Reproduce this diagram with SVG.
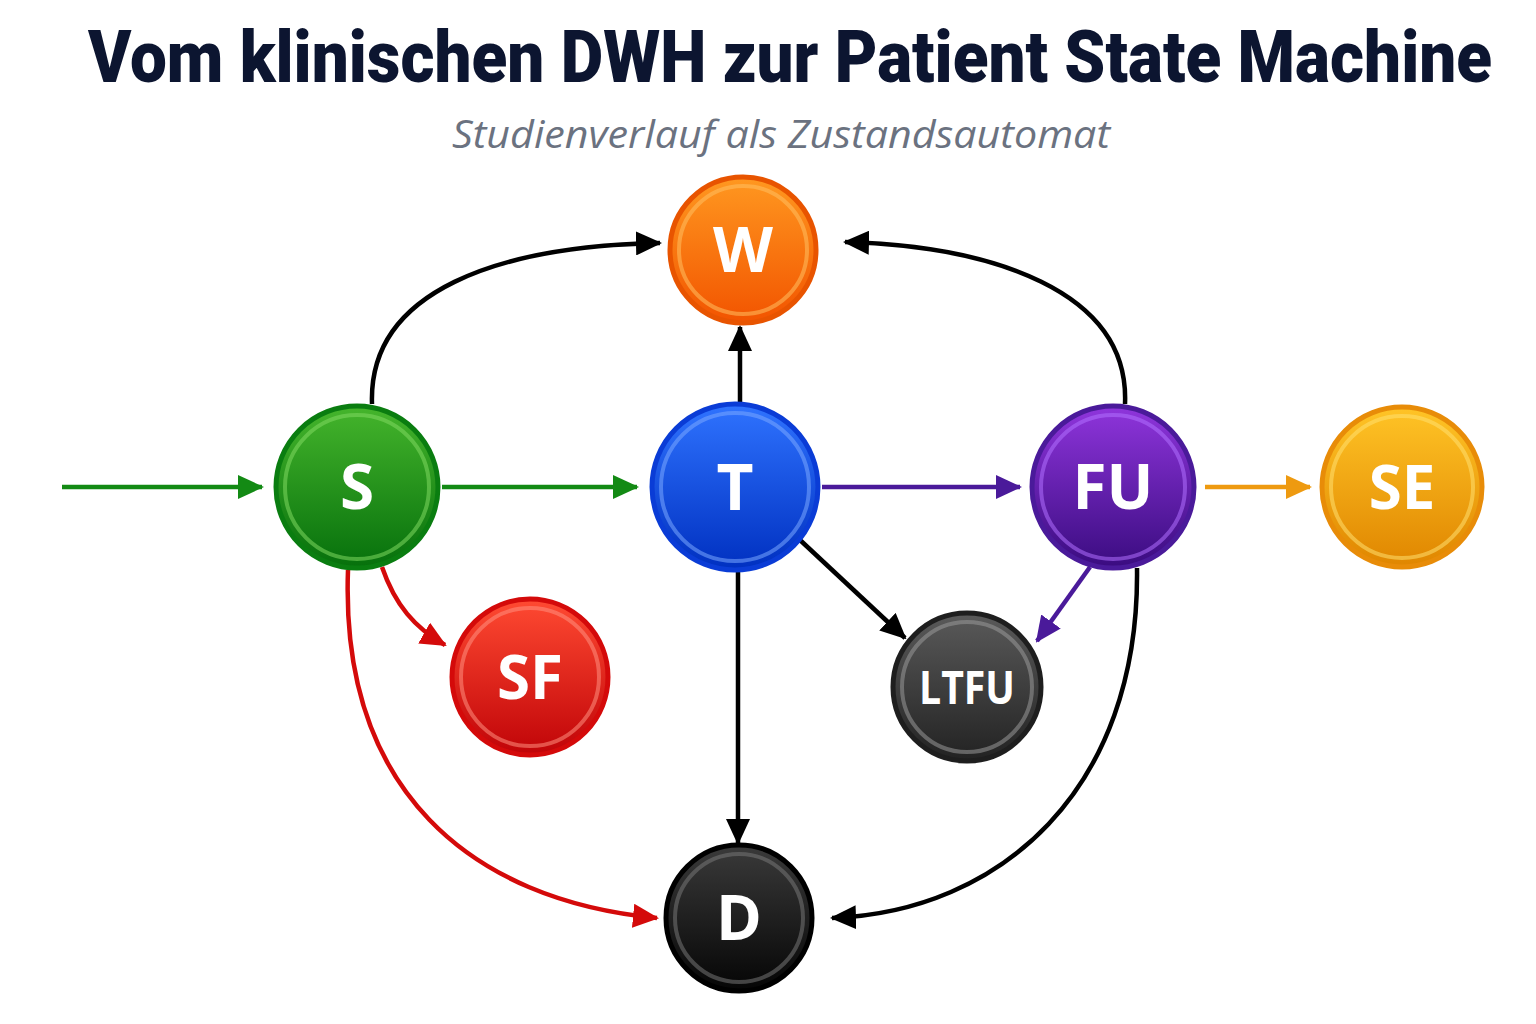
<svg xmlns="http://www.w3.org/2000/svg" width="1536" height="1024" viewBox="0 0 1536 1024">
<style>
.title{font-family:Roboto,"Liberation Sans",sans-serif;font-weight:900;font-size:72px;fill:#0c1530}
.sub{font-family:"Open Sans","Liberation Sans",sans-serif;font-style:italic;font-size:38px;fill:#6b7280}
.lbl{font-family:"Open Sans","Liberation Sans",sans-serif;font-weight:bold;fill:#fff;text-anchor:middle}
.e{fill:none;stroke-width:4.5}
.ring{fill:none;stroke-width:4;opacity:.55}
</style>
<defs>
<marker id="aG" markerUnits="userSpaceOnUse" markerWidth="26" markerHeight="24" refX="24" refY="12" orient="auto"><path d="M0,0 L26,12 L0,24 Z" fill="#138a14"/></marker>
<marker id="aK" markerUnits="userSpaceOnUse" markerWidth="26" markerHeight="24" refX="24" refY="12" orient="auto"><path d="M0,0 L26,12 L0,24 Z" fill="#000"/></marker>
<marker id="aP" markerUnits="userSpaceOnUse" markerWidth="26" markerHeight="24" refX="24" refY="12" orient="auto"><path d="M0,0 L26,12 L0,24 Z" fill="#4a1a9a"/></marker>
<marker id="aO" markerUnits="userSpaceOnUse" markerWidth="26" markerHeight="24" refX="24" refY="12" orient="auto"><path d="M0,0 L26,12 L0,24 Z" fill="#ee9a10"/></marker>
<marker id="aR" markerUnits="userSpaceOnUse" markerWidth="26" markerHeight="24" refX="24" refY="12" orient="auto"><path d="M0,0 L26,12 L0,24 Z" fill="#d40a0a"/></marker>
<linearGradient id="gS" x1="0" y1="0" x2="0" y2="1"><stop offset="0" stop-color="#45b52c"/><stop offset="1" stop-color="#06700c"/></linearGradient>
<linearGradient id="gW" x1="0" y1="0" x2="0" y2="1"><stop offset="0" stop-color="#ff9820"/><stop offset="1" stop-color="#f25400"/></linearGradient>
<linearGradient id="gT" x1="0" y1="0" x2="0" y2="1"><stop offset="0" stop-color="#2f73ff"/><stop offset="1" stop-color="#0030c0"/></linearGradient>
<linearGradient id="gFU" x1="0" y1="0" x2="0" y2="1"><stop offset="0" stop-color="#8f35dc"/><stop offset="1" stop-color="#3a0c80"/></linearGradient>
<linearGradient id="gSE" x1="0" y1="0" x2="0" y2="1"><stop offset="0" stop-color="#ffc426"/><stop offset="1" stop-color="#e08600"/></linearGradient>
<linearGradient id="gSF" x1="0" y1="0" x2="0" y2="1"><stop offset="0" stop-color="#ff4a32"/><stop offset="1" stop-color="#c00408"/></linearGradient>
<linearGradient id="gL" x1="0" y1="0" x2="0" y2="1"><stop offset="0" stop-color="#5a5a5a"/><stop offset="1" stop-color="#222"/></linearGradient>
<linearGradient id="gD" x1="0" y1="0" x2="0" y2="1"><stop offset="0" stop-color="#3a3a3a"/><stop offset="1" stop-color="#050505"/></linearGradient>
</defs>
<rect width="1536" height="1024" fill="#fff"/>
<text class="title" x="88" y="82" textLength="1404" lengthAdjust="spacingAndGlyphs">Vom klinischen DWH zur Patient State Machine</text>
<text class="sub" x="781" y="148" text-anchor="middle" textLength="658" lengthAdjust="spacingAndGlyphs">Studienverlauf als Zustandsautomat</text>
<g id="connectors">
<path class="e" stroke="#138a14" d="M62,487 L262,487" marker-end="url(#aG)"/>
<path class="e" stroke="#138a14" d="M442,487 L637,487" marker-end="url(#aG)"/>
<path class="e" stroke="#4a1a9a" d="M822,487 L1020,487" marker-end="url(#aP)"/>
<path class="e" stroke="#ee9a10" d="M1205,487 L1310,487" marker-end="url(#aO)"/>
<path class="e" stroke="#000" d="M740,403 L740,327" marker-end="url(#aK)"/>
<path class="e" stroke="#000" d="M372,404 C368,290 500,246 660,243" marker-end="url(#aK)"/>
<path class="e" stroke="#000" d="M1125,404 C1130,290 990,246 845,242" marker-end="url(#aK)"/>
<path class="e" stroke="#d40a0a" d="M382,567 C395,605 415,628 445,645" marker-end="url(#aR)"/>
<path class="e" stroke="#d40a0a" d="M348,570 C340,790 470,900 657,918" marker-end="url(#aR)"/>
<path class="e" stroke="#000" d="M738,570 L738,843" marker-end="url(#aK)"/>
<path class="e" stroke="#000" d="M800,540 L905,638" marker-end="url(#aK)"/>
<path class="e" stroke="#4a1a9a" d="M1090,567 L1037,641" marker-end="url(#aP)"/>
<path class="e" stroke="#000" d="M1137,568 C1140,790 1000,912 832,918" marker-end="url(#aK)"/>
</g>
<g id="node-W">
<circle cx="743" cy="250" r="73" fill="url(#gW)" stroke="#e85400" stroke-width="5"/>
<circle class="ring" cx="743" cy="250" r="64" stroke="#ffc060"/>
<text class="lbl" x="743" y="272" font-size="62">W</text>
</g>
<g id="node-S">
<circle cx="357" cy="487" r="81" fill="url(#gS)" stroke="#0a7d10" stroke-width="5"/>
<circle class="ring" cx="357" cy="487" r="72" stroke="#7fd860"/>
<text class="lbl" x="357" y="509" font-size="62">S</text>
</g>
<g id="node-T">
<circle cx="735" cy="487" r="83" fill="url(#gT)" stroke="#0a3cd6" stroke-width="5"/>
<circle class="ring" cx="735" cy="487" r="74" stroke="#7aa8ff"/>
<text class="lbl" x="735" y="510" font-size="64">T</text>
</g>
<g id="node-FU">
<circle cx="1113" cy="487" r="81" fill="url(#gFU)" stroke="#4a1a9a" stroke-width="5"/>
<circle class="ring" cx="1113" cy="487" r="72" stroke="#b070ff"/>
<text class="lbl" x="1113" y="509" font-size="62">FU</text>
</g>
<g id="node-SE">
<circle cx="1402" cy="487" r="80" fill="url(#gSE)" stroke="#e88c08" stroke-width="5"/>
<circle class="ring" cx="1402" cy="487" r="71" stroke="#ffe070"/>
<text class="lbl" x="1402" y="509" font-size="60">SE</text>
</g>
<g id="node-SF">
<circle cx="530" cy="677" r="78" fill="url(#gSF)" stroke="#d40a0a" stroke-width="5"/>
<circle class="ring" cx="530" cy="677" r="69" stroke="#ff9080"/>
<text class="lbl" x="530" y="699" font-size="60">SF</text>
</g>
<g id="node-LTFU">
<circle cx="967" cy="687" r="74" fill="url(#gL)" stroke="#1e1e1e" stroke-width="5"/>
<circle class="ring" cx="967" cy="687" r="65" stroke="#999"/>
<text class="lbl" x="967" y="704" font-size="46" textLength="96" lengthAdjust="spacingAndGlyphs">LTFU</text>
</g>
<g id="node-D">
<circle cx="739" cy="918" r="73" fill="url(#gD)" stroke="#000" stroke-width="5"/>
<circle class="ring" cx="739" cy="918" r="64" stroke="#777"/>
<text class="lbl" x="739" y="940" font-size="62">D</text>
</g>
</svg>
